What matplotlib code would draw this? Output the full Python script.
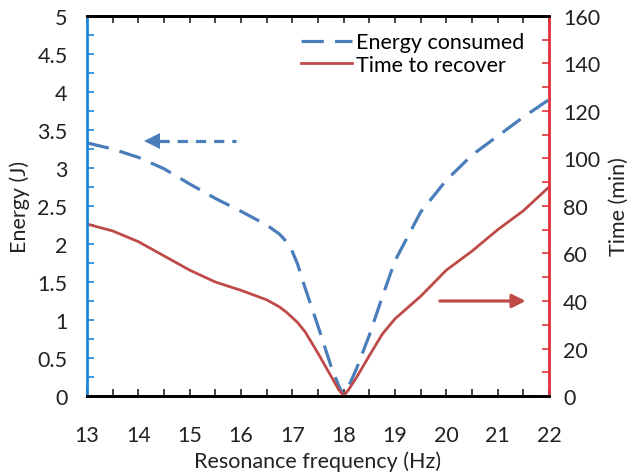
import matplotlib.pyplot as plt

plt.rcParams['font.family'] = ['Lato', 'DejaVu Sans']

# resonance frequency (Hz)
freq = [13, 13.5, 14, 14.5, 15, 15.5, 16, 16.5, 16.75, 16.9, 17, 17.1, 17.25, 17.5,
        17.75, 17.9, 18, 18.1, 18.25, 18.5, 18.75, 19, 19.5, 20, 20.5, 21, 21.5, 22]
# energy consumed (J)
energy = [3.33, 3.25, 3.14, 2.99, 2.79, 2.6, 2.43, 2.25, 2.13, 2.02, 1.9, 1.74, 1.42,
          0.92, 0.4, 0.14, 0.0, 0.13, 0.36, 0.8, 1.3, 1.78, 2.42, 2.84, 3.17, 3.42, 3.67, 3.9]
# time to recover (min)
recover = [72.4, 69.5, 65, 59, 53, 48, 44.5, 40.5, 37.5, 35, 33, 31, 27, 18,
           8.5, 2.8, 0, 2.8, 7.8, 17, 26, 32.5, 42, 53, 61, 70, 78, 88]

blue = '#4A7EBB'
red = '#BE4B48'
blue_axis = '#1B86D8'
red_axis = '#E0303A'
fs = 15.5

fig = plt.figure(figsize=(6.41, 4.77), dpi=100)
ax = fig.add_axes([0.1357, 0.1677, 0.7208, 0.7967])
ax2 = ax.twinx()

l1, = ax.plot(freq, energy, color=blue, lw=2.3, dashes=(7, 3.5), label='Energy consumed')
l2, = ax2.plot(freq, recover, color=red, lw=2.0, label='Time to recover')

ax.set_xlim(13, 22)
ax.set_ylim(0, 5)
ax2.set_ylim(0, 160)

ax.set_xticks(range(13, 23))
ax.set_xticks([x + 0.5 for x in range(13, 22)], minor=True)
ax.set_yticks([i * 0.5 for i in range(11)])
ax.set_yticklabels(['0', '0.5', '1', '1.5', '2', '2.5', '3', '3.5', '4', '4.5', '5'])
ax.set_yticks([i * 0.25 for i in range(21)], minor=True)
ax2.set_yticks(range(0, 161, 20))
ax2.set_yticks(range(0, 161, 10), minor=True)

ax.tick_params(axis='x', which='both', direction='in', top=True, length=5, width=1.2,
               labelsize=fs, pad=21, colors='#222222')
ax.tick_params(axis='y', which='both', direction='in', length=5, width=1.2,
               color=blue_axis, labelsize=fs, pad=14, labelcolor='#222222')
ax2.tick_params(axis='y', which='both', direction='in', length=5, width=1.2,
                color=red_axis, labelsize=fs, pad=10, labelcolor='#222222')

for a in (ax, ax2):
    a.spines['top'].set_linewidth(2)
    a.spines['bottom'].set_linewidth(2)
ax2.spines['left'].set_color(blue_axis)
ax2.spines['left'].set_linewidth(2)
ax2.spines['right'].set_color(red_axis)
ax2.spines['right'].set_linewidth(2)
ax.spines['left'].set_visible(False)
ax.spines['right'].set_visible(False)

ax.set_xlabel('Resonance frequency (Hz)', fontsize=fs, color='#222222', labelpad=4)
ax.set_ylabel('Energy (J)', fontsize=fs, color='#222222', labelpad=5)
ax2.set_ylabel('Time (min)', fontsize=fs, color='#222222', labelpad=6)

# arrows pointing to the matching axis
ax.plot([14.4, 15.9], [3.36, 3.36], color=blue, lw=2.3, dashes=(3.2, 2.5))
ax.plot([14.27], [3.36], marker='<', color=blue, ms=11, mew=0)
ax2.annotate('', xy=(21.6, 40), xytext=(19.82, 40),
             arrowprops=dict(arrowstyle='-|>,head_length=0.8,head_width=0.4',
                             color=red, lw=2.3))

ax.legend([l1, l2], ['Energy consumed', 'Time to recover'], loc='upper right',
          bbox_to_anchor=(0.978, 0.997), frameon=False, fontsize=fs,
          handlelength=2.4, handletextpad=0.15, labelspacing=0.12, borderaxespad=0.3)

fig.savefig('out.png', dpi=100)
